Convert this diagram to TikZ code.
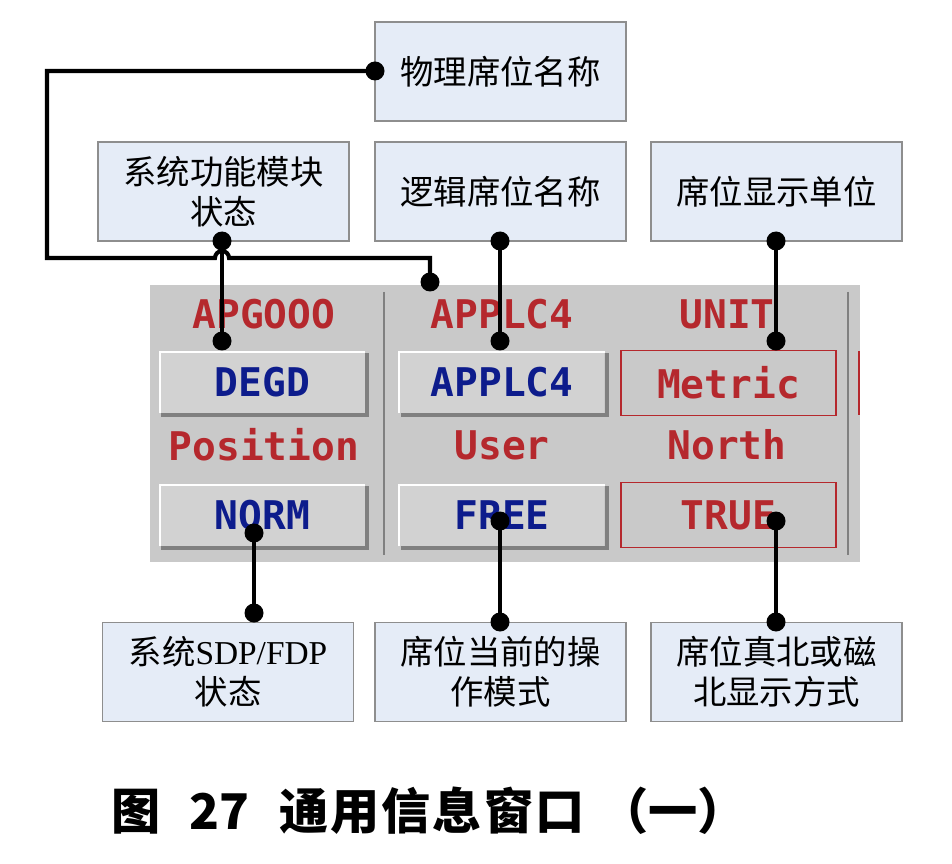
\documentclass[tikz,border=0pt]{standalone}
\usepackage{fontspec}
\setmainfont{Liberation Serif}
\newfontfamily\cjk{Noto Sans CJK SC}
\newfontfamily\scr{DejaVu Sans Mono}
\usetikzlibrary{positioning}
\definecolor{colorbox}{HTML}{E5ECF7}
\definecolor{colorrim}{HTML}{8E8E8E}
\definecolor{colorpan}{HTML}{C9C9C9}
\definecolor{colorbtn}{HTML}{D2D2D2}
\definecolor{colorlbl}{HTML}{B5282D}
\definecolor{colorval}{HTML}{0D1C8C}
\tikzset{
  infobox/.style={draw=colorrim, fill=colorbox, line width=0.7pt, minimum width=5.02cm,
    minimum height=1.98cm, align=center, inner sep=0pt, font=\cjk\fontsize{19}{23}\selectfont},
  lbl/.style={text=colorlbl, inner sep=0pt, font=\scr\bfseries\fontsize{22.5}{22}\selectfont},
  btn/.style={fill=colorbtn, minimum width=4.1cm, minimum height=1.22cm, inner sep=0pt,
    text=colorval, font=\scr\bfseries\fontsize{22.5}{22}\selectfont},
  rbox/.style={draw=colorlbl, line width=1.1pt, minimum width=4.3cm, minimum height=1.3cm,
    inner sep=0pt, text=colorlbl, font=\scr\bfseries\fontsize{22.5}{22}\selectfont},
  wire/.style={black, line width=2.3pt},
  pin/.style={circle, fill=black, inner sep=0pt, minimum size=0.38cm}
}
\newcommand\bevel[1]{%
  \draw[white, line width=1.2pt] (#1.south west) |- (#1.north east);
  \draw[gray, line width=2.2pt] ([shift={(1pt,-1pt)}]#1.south west) -| ([shift={(1pt,-1pt)}]#1.north east);}

\begin{document}
\begin{tikzpicture}[x=0.02cm, y=-0.02cm]
\useasboundingbox (0,0) rectangle (952,864);
\fill[colorpan] (150,285) rectangle (860,562);
\draw[gray, line width=1.2pt] (384,292) -- (384,555);
\draw[gray, line width=1.2pt] (848,292) -- (848,555);
\draw[colorlbl, line width=1.1pt] (859,351) -- (859,415);

\node[infobox] (phys) at (500.5,71.5) {物理席位名称};
\node[infobox] (func) at (223.5,191.5) {系统功能模块\\状态};
\node[infobox] (logi) at (500.5,191.5) {逻辑席位名称};
\node[infobox] (unit) at (776.5,191.5) {席位显示单位};
\node[infobox] (sdp) at (228,672) {系统{\fontspec{Liberation Serif}SDP/FDP}\\状态};
\node[infobox] (mode) at (500.5,672) {席位当前的操\\作模式};
\node[infobox] (nrth) at (776.5,672) {席位真北或磁\\北显示方式};

\node[lbl] (apg) at (264,314) {APGOOO};
\node[lbl] (apl) at (502,314) {APPLC4};
\node[lbl] (unt) at (727,314) {UNIT};
\node[lbl] (pos) at (264,445) {Position};
\node[lbl] (usr) at (502,445) {User};
\node[lbl] (nor) at (727,445) {North};

\node[btn] (degd) at (262.5,382.5) {DEGD};
\node[btn] (aplv) at (502,382.5) {APPLC4};
\node[btn] (norm) at (262.5,515.5) {NORM};
\node[btn] (free) at (502,515.5) {FREE};
\bevel{degd}
\bevel{aplv}
\bevel{norm}
\bevel{free}
\node[rbox] (metr) at (728.5,383) {Metric};
\node[rbox] (true) at (728.5,515) {TRUE};

\node[pin] (p1) at (375,71) {};
\node[pin] (p2) at (430,282) {};
\node[pin] (p3) at (222,241) {};
\node[pin] (p4) at (222,341) {};
\node[pin] (p5) at (500,241) {};
\node[pin] (p6) at (500,341) {};
\node[pin] (p7) at (776,241) {};
\node[pin] (p8) at (776,341) {};
\node[pin] (p9) at (254,533) {};
\node[pin] (p10) at (254,613) {};
\node[pin] (p11) at (500,521) {};
\node[pin] (p12) at (500,622) {};
\node[pin] (p13) at (776,521) {};
\node[pin] (p14) at (776,622) {};

\draw[wire] (p1.center) -| (47,258) -- (215,258) arc[start angle=180, end angle=0, radius=0.14cm] -| (p2.center);
\draw[wire] (p3.center) -- (p4.center);
\draw[wire] (p5.center) -- (p6.center);
\draw[wire] (p7.center) -- (p8.center);
\draw[wire] (p9.center) -- (p10.center);
\draw[wire] (p11.center) -- (p12.center);
\draw[wire] (p13.center) -- (p14.center);

\node[font=\cjk\bfseries\fontsize{28}{28}\selectfont] (cap) at (429,811)
  {图\hspace{0.6em}27\hspace{0.6em}通\hspace{0.04em}用\hspace{0.04em}信\hspace{0.04em}息\hspace{0.04em}窗\hspace{0.04em}口\hspace{0.3em}（一）};
\end{tikzpicture}
\end{document}
